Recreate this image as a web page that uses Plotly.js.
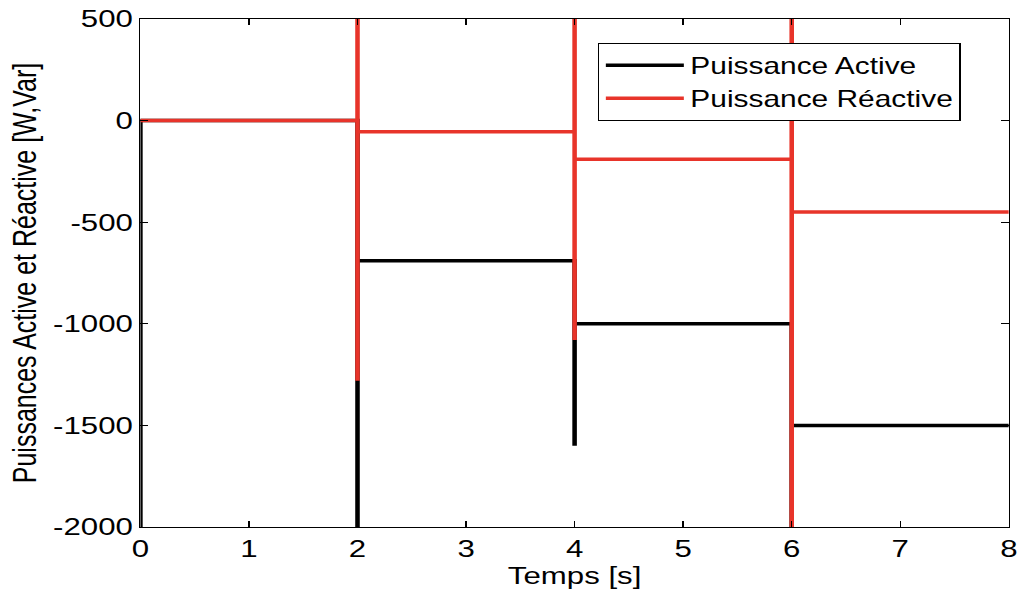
<!DOCTYPE html>
<html><head><meta charset="utf-8">
<script src="https://cdn.plot.ly/plotly-3.0.1.min.js"></script>
<style>
html,body{margin:0;padding:0;background:#fff;overflow:hidden;width:1022px;height:589px}
#chart{width:786px;height:589px;transform:scaleX(1.3);transform-origin:0 0}
</style>
</head><body><div id="chart"></div>
<script>
// Temps [s] and values for Puissance Active (W)
const activeTime = [0, 0, 0, 2, 2, 2, 4, 4, 4, 6, 6, 6, 8];
const activeValue = [-2000, 0, 0, 0, -2000, -690, -690, -1600, -1000, -1000, -2000, -1500, -1500];
// Temps [s] and values for Puissance Réactive (Var)
const reactiveTime = [0, 2, 2, 2, 2, 4, 4, 4, 4, 6, 6, 6, 6, 8];
const reactiveValue = [0, 0, 500, -1280, -55, -55, 500, -1080, -190, -190, 500, -2000, -450, -450];
const xTicks = [0, 1, 2, 3, 4, 5, 6, 7, 8];
const yTicks = [-2000, -1500, -1000, -500, 0, 500];

const font = {family: 'Liberation Sans, Arial, sans-serif', color: '#000'};
const f = (s) => Object.assign({size: s}, font);
const data = [
  {x: activeTime, y: activeValue, name: 'Puissance Active', mode: 'lines',
   line: {color: '#000000', width: 3.5}},
  {x: reactiveTime, y: reactiveValue, name: 'Puissance Réactive', mode: 'lines',
   line: {color: '#e8342a', width: 3.5}}
];
const layout = {
  width: 786, height: 589,
  margin: {l: 108, r: 10, t: 19, b: 62},
  paper_bgcolor: '#fff', plot_bgcolor: '#fff',
  font: f(24),
  showlegend: true,
  legend: {x: 0.527, y: 0.953, xanchor: 'left', yanchor: 'top',
    bgcolor: '#fff', bordercolor: '#000', borderwidth: 1,
    font: f(23), tracegroupgap: 0, itemwidth: 60},
  xaxis: {range: [0, 8], tickvals: xTicks, ticktext: xTicks.map(String),
    ticks: 'inside', ticklen: 6, tickcolor: '#000', showgrid: false, zeroline: false,
    showline: true, linecolor: '#000', linewidth: 1, mirror: 'ticks',
    tickfont: f(24),
    title: {text: 'Temps [s]', font: f(24), standoff: 0}},
  yaxis: {range: [-2000, 500], tickvals: yTicks, ticktext: yTicks.map(String),
    ticks: 'inside', ticklen: 6, tickcolor: '#000', showgrid: false, zeroline: false,
    showline: true, linecolor: '#000', linewidth: 1, mirror: 'ticks',
    tickfont: f(24),
    title: {text: 'Puissances Active et Réactive [W,Var]', font: f(25), standoff: 5}}
};
Plotly.newPlot('chart', data, layout, {displayModeBar: false, staticPlot: true});
</script></body></html>
